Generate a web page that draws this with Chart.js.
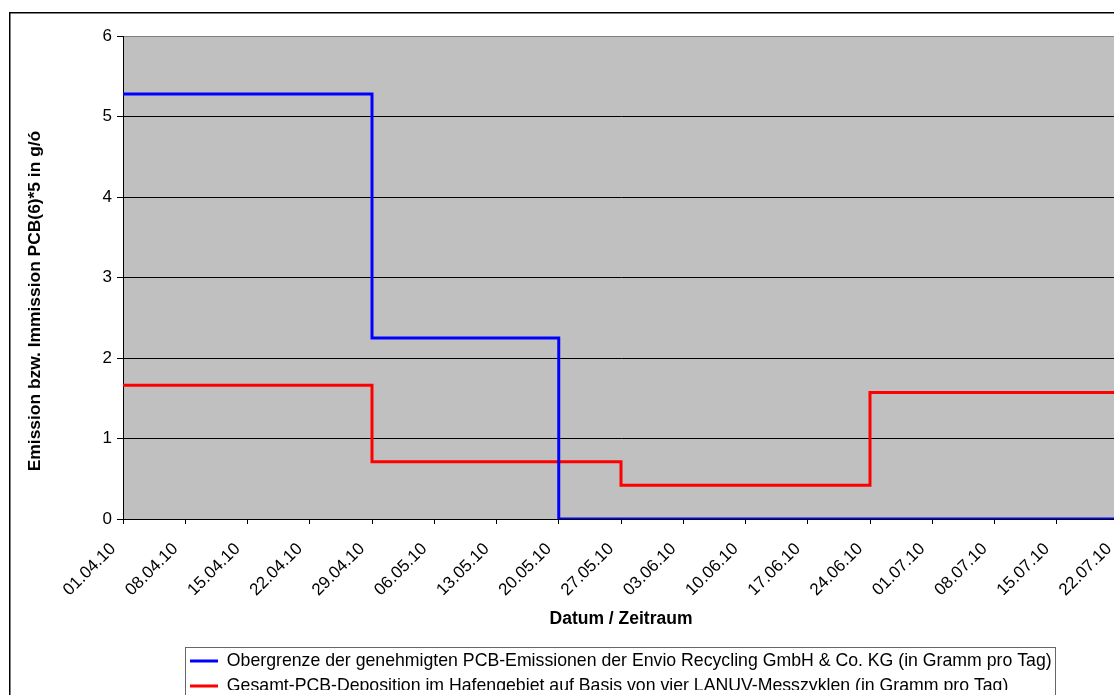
<!DOCTYPE html>
<html>
<head>
<meta charset="utf-8">
<script src="https://cdn.jsdelivr.net/npm/chart.js@4.4.1/dist/chart.umd.min.js"></script>
<style>
  html, body { margin: 0; padding: 0; overflow: hidden; background: #fff; width: 1114px; height: 695px; }
  #wrap { position: absolute; left: 0; top: 0; width: 1140px; height: 720px; }
</style>
</head>
<body>
<div id="wrap"><canvas id="c" width="1140" height="720"></canvas></div>
<script>
// Weekly date ticks (days counted from 01.04.10)
const tickLabels = ['01.04.10', '08.04.10', '15.04.10', '22.04.10', '29.04.10', '06.05.10', '13.05.10', '20.05.10',
  '27.05.10', '03.06.10', '10.06.10', '17.06.10', '24.06.10', '01.07.10', '08.07.10', '15.07.10', '22.07.10'];
const tickDays = [0, 7, 14, 21, 28, 35, 42, 49, 56, 63, 70, 77, 84, 91, 98, 105, 112];

// Permitted emission ceiling (step changes on the given days)
const emissionDays = [0, 28, 49, 112];
const emissionValues = [5.28, 2.25, 0, 0];

// Total deposition in the harbour area (four measuring cycles)
const depositionDays = [0, 28, 56, 84, 112];
const depositionValues = [1.66, 0.71, 0.42, 1.57, 1.57];

const seriesNames = [
  'Obergrenze der genehmigten PCB-Emissionen der Envio Recycling GmbH & Co. KG (in Gramm pro Tag)',
  'Gesamt-PCB-Deposition im Hafengebiet auf Basis von vier LANUV-Messzyklen (in Gramm pro Tag)'
];
const yTitle = 'Emission bzw. Immission PCB(6)*5 in g/ó';
const xTitle = 'Datum / Zeitraum';

const FONT = "'Liberation Sans', Arial, sans-serif";
Chart.defaults.font.family = FONT;
Chart.defaults.color = '#000';

const toPoints = (days, vals) => days.map((d, i) => ({ x: d, y: vals[i] }));

const frame = {
  id: 'frame',
  beforeDraw(chart) {
    const { ctx, chartArea: a } = chart;
    ctx.save();
    ctx.fillStyle = '#fff';
    ctx.fillRect(0, 0, chart.width, chart.height);
    // outer chart border
    ctx.strokeStyle = '#000';
    ctx.lineWidth = 1.5;
    ctx.strokeRect(9.75, 12.75, chart.width, chart.height);
    // plot area
    ctx.fillStyle = '#C0C0C0';
    ctx.fillRect(a.left, a.top, a.width, a.height);
    ctx.strokeStyle = '#808080';
    ctx.lineWidth = 1;
    ctx.beginPath();
    ctx.moveTo(a.left, a.top + 0.5);
    ctx.lineTo(a.right + 0.5, a.top + 0.5);
    ctx.lineTo(a.right + 0.5, a.bottom);
    ctx.stroke();
    // vertical axis title
    ctx.translate(35, 301);
    ctx.rotate(-Math.PI / 2);
    ctx.font = 'bold 17.4px ' + FONT;
    ctx.textAlign = 'center';
    ctx.textBaseline = 'middle';
    ctx.fillStyle = '#000';
    ctx.fillText(yTitle, 0, 0);
    ctx.restore();
    // legend block position
    const lg = chart.legend;
    if (lg) { lg.left = 182.7; lg.top = 644.85; }
  },
  afterDraw(chart) {
    const { ctx } = chart;
    ctx.save();
    ctx.strokeStyle = '#666';
    ctx.lineWidth = 1;
    ctx.strokeRect(185.5, 647.5, 870, 100);
    ctx.restore();
  }
};

new Chart(document.getElementById('c'), {
  type: 'line',
  data: {
    datasets: [
      {
        label: seriesNames[0],
        data: toPoints(emissionDays, emissionValues),
        borderColor: '#0000FF',
        backgroundColor: '#0000FF',
        borderWidth: 3,
        stepped: true,
        pointRadius: 0,
        fill: false
      },
      {
        label: seriesNames[1],
        data: toPoints(depositionDays, depositionValues),
        borderColor: '#FF0000',
        backgroundColor: '#FF0000',
        borderWidth: 3,
        stepped: true,
        pointRadius: 0,
        fill: false
      }
    ]
  },
  options: {
    responsive: false,
    animation: false,
    devicePixelRatio: 1,
    layout: { padding: { left: 20, top: 36, right: 21, bottom: 30 } },
    scales: {
      x: {
        type: 'linear',
        min: 0,
        max: 112,
        afterBuildTicks: s => { s.ticks = tickDays.map(v => ({ value: v })); },
        afterFit: s => { s.height = 111; s.paddingLeft = 0; s.paddingRight = 0; },
        ticks: {
          autoSkip: false,
          maxRotation: 45,
          minRotation: 45,
          padding: 15,
          labelOffset: -10,
          font: { size: 17 },
          callback: v => tickLabels[tickDays.indexOf(v)]
        },
        grid: { drawOnChartArea: false, drawTicks: true, tickLength: 5, tickColor: '#000' },
        border: { color: '#000', width: 1 },
        title: { display: true, text: xTitle, font: { size: 17.5, weight: 'bold' }, padding: { top: 0, bottom: 0 } }
      },
      y: {
        min: 0,
        max: 6,
        afterFit: s => { s.width = 103; },
        ticks: { stepSize: 1, padding: 5, font: { size: 17 } },
        grid: {
          color: c => (c.tick && c.tick.value === 6) ? 'rgba(0,0,0,0)' : '#000',
          tickColor: '#000',
          tickLength: 6,
          lineWidth: 1
        },
        border: { color: '#000', width: 1 }
      }
    },
    plugins: {
      tooltip: { enabled: false },
      legend: {
        position: 'bottom',
        align: 'start',
        labels: {
          font: { size: 17.7 },
          color: '#000',
          boxWidth: 28,
          boxHeight: 3,
          padding: 7.3,
          generateLabels: chart => Chart.defaults.plugins.legend.labels.generateLabels(chart)
            .map(l => Object.assign(l, { fillStyle: l.strokeStyle, lineWidth: 0 }))
        }
      }
    }
  },
  plugins: [frame]
});
</script>
</body>
</html>
